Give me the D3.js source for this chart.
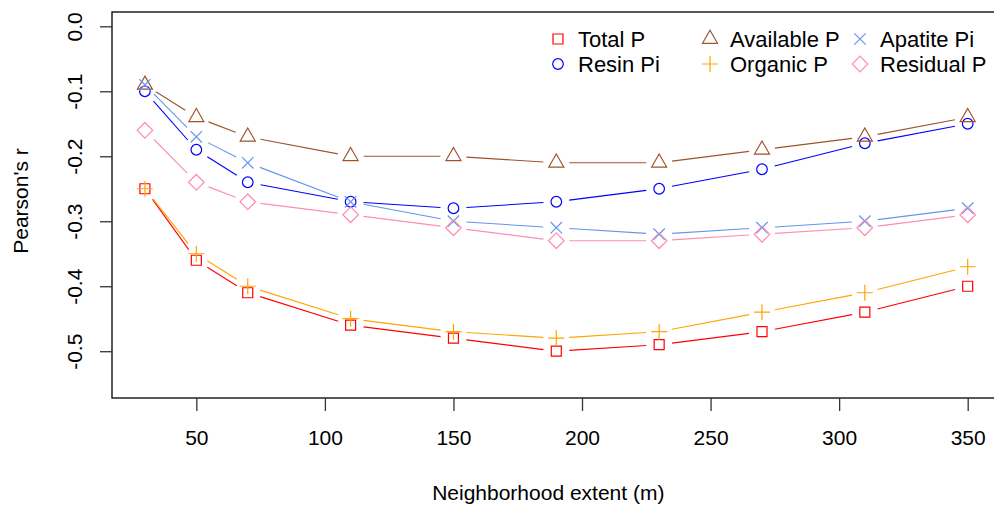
<!DOCTYPE html>
<html>
<head>
<meta charset="utf-8">
<script src="https://cdn.jsdelivr.net/npm/d3@7"></script>
<style>
  body { margin: 0; background: #fff; }
  svg { display: block; font-family: "Liberation Sans", Arial, sans-serif; }
</style>
</head>
<body>
<svg id="chart" width="994" height="506"></svg>
<script>
(function(){
    // data
    var extent = [30, 50, 70, 110, 150, 190, 230, 270, 310, 350];
    var totalP     = [-0.25, -0.36, -0.41, -0.46, -0.48, -0.50, -0.49, -0.47, -0.44, -0.40];
    var resinPi    = [-0.10, -0.19, -0.24, -0.27, -0.28, -0.27, -0.25, -0.22, -0.18, -0.15];
    var availableP = [-0.09, -0.14, -0.17, -0.20, -0.20, -0.21, -0.21, -0.19, -0.17, -0.14];
    var organicP   = [-0.25, -0.35, -0.40, -0.45, -0.47, -0.48, -0.47, -0.44, -0.41, -0.37];
    var apatitePi  = [-0.09, -0.17, -0.21, -0.27, -0.30, -0.31, -0.32, -0.31, -0.30, -0.28];
    var residualP  = [-0.16, -0.24, -0.27, -0.29, -0.31, -0.33, -0.33, -0.32, -0.31, -0.29];

    var seriesNames = ['Total P', 'Resin Pi', 'Available P', 'Organic P', 'Apatite Pi', 'Residual P'];
    var seriesVals = [totalP, resinPi, availableP, organicP, apatitePi, residualP];
    var seriesCols = ['#ff0000', '#0000ff', '#a0522d', '#ffa500', '#6495ed', '#ff8db3'];
    var seriesPch  = ['square', 'circle', 'triangle', 'plus', 'times', 'diamond'];

    var xTicks = [50, 100, 150, 200, 250, 300, 350];
    var yTicks = [0, -0.1, -0.2, -0.3, -0.4, -0.5];

    // plot region (R style, 4% padding)
    var left = 112, top = 12, bottom = 398;
    var x = d3.scaleLinear().domain([17.2, 362.8]).range([left, 1000.6]);
    var y = d3.scaleLinear().domain([-0.572, 0.022]).range([bottom, top]);

    var svg = d3.select('#chart');

    // symbol paths --------------------------
    function symbolPath(type){
        switch(type){
            case 'square': return 'M-5,-5H5V5H-5Z';
            case 'circle': return 'M5.3,0A5.3,5.3 0 1,1 -5.3,0A5.3,5.3 0 1,1 5.3,0Z';
            case 'triangle': return 'M0,-8.7L7.5,4.3L-7.5,4.3Z';
            case 'plus': return 'M-8,0H8M0,-8V8';
            case 'times': return 'M-5.7,-5.7L5.7,5.7M-5.7,5.7L5.7,-5.7';
            case 'diamond': return 'M0,-7.8L7.8,0L0,7.8L-7.8,0Z';
        }
    }

    // gapped segments like type="b"
    function segments(vals){
        var gap = 13, result = [];
        for(var i = 0; i < vals.length-1; i++){
            var x1 = x(extent[i]), y1 = y(vals[i]);
            var x2 = x(extent[i+1]), y2 = y(vals[i+1]);
            var dx = x2-x1, dy = y2-y1, len = Math.sqrt(dx*dx+dy*dy);
            if(len <= 2*gap) continue;
            var ux = dx/len, uy = dy/len;
            result.push([x1+ux*gap, y1+uy*gap, x2-ux*gap, y2-uy*gap]);
        }
        return result;
    }

    var series = seriesNames.map(function(n, i){
        return { name: n, vals: seriesVals[i], col: seriesCols[i], pch: seriesPch[i] };
    });

    var plotG = svg.append('g');
    series.forEach(function(s){
        var g = plotG.append('g');
        g.selectAll('line').data(segments(s.vals)).enter().append('line')
            .attr('x1', function(d){ return d[0] })
            .attr('y1', function(d){ return d[1] })
            .attr('x2', function(d){ return d[2] })
            .attr('y2', function(d){ return d[3] })
            .attr('stroke', s.col)
            .attr('stroke-width', 1.1);
        g.selectAll('path').data(s.vals).enter().append('path')
            .attr('d', symbolPath(s.pch))
            .attr('transform', function(d, i){ return 'translate(' + x(extent[i]) + ',' + y(d) + ')' })
            .attr('fill', 'none')
            .attr('stroke', s.col)
            .attr('stroke-width', 1.2);
    });

    // box
    svg.append('rect')
        .attr('x', left).attr('y', top)
        .attr('width', x.range()[1] - left).attr('height', bottom - top)
        .attr('fill', 'none').attr('stroke', '#000').attr('stroke-width', 1.3);

    // axes
    var xAxis = svg.append('g')
        .attr('transform', 'translate(0,' + bottom + ')')
        .call(d3.axisBottom(x).tickValues(xTicks).tickSize(13).tickPadding(19));
    xAxis.select('.domain').remove();
    xAxis.selectAll('.tick line').attr('stroke', '#333').attr('stroke-width', 1.3);
    xAxis.selectAll('.tick text').attr('font-size', 21).attr('fill', '#000')
        .attr('font-family', '"Liberation Sans", Arial, sans-serif');

    var yAxis = svg.append('g')
        .attr('transform', 'translate(' + left + ',0)')
        .call(d3.axisLeft(y).tickValues(yTicks).tickSize(12).tickFormat(d3.format('.1f')));
    yAxis.select('.domain').remove();
    yAxis.selectAll('.tick line').attr('stroke', '#333').attr('stroke-width', 1.3);
    yAxis.selectAll('.tick text')
        .text(function(d){ return d3.format('.1f')(d).replace('\u2212', '-') })
        .attr('font-size', 21).attr('fill', '#000')
        .attr('font-family', '"Liberation Sans", Arial, sans-serif')
        .attr('text-anchor', 'middle')
        .attr('x', null).attr('dy', null)
        .attr('transform', 'translate(-30,0) rotate(-90)');

    // titles
    svg.append('text')
        .attr('x', (left + x.range()[1]) / 2 - 8).attr('y', 500)
        .attr('text-anchor', 'middle').attr('font-size', 21)
        .text('Neighborhood extent (m)');
    svg.append('text')
        .attr('transform', 'translate(28,' + ((top + bottom) / 2 - 4) + ') rotate(-90)')
        .attr('text-anchor', 'middle').attr('font-size', 21)
        .text("Pearson's r");

    // legend (3 columns, filled by column)
    var colX = [558, 710, 860];
    var rowY = [39, 64];
    var leg = svg.append('g');
    series.forEach(function(s, i){
        var cx = colX[Math.floor(i / 2)], cy = rowY[i % 2];
        leg.append('path')
            .attr('d', symbolPath(s.pch))
            .attr('transform', 'translate(' + cx + ',' + cy + ')')
            .attr('fill', 'none').attr('stroke', s.col).attr('stroke-width', 1.2);
        leg.append('text')
            .attr('x', cx + 20).attr('y', cy + 8)
            .attr('font-size', 22)
            .text(s.name);
    });
})();
</script>
</body>
</html>
